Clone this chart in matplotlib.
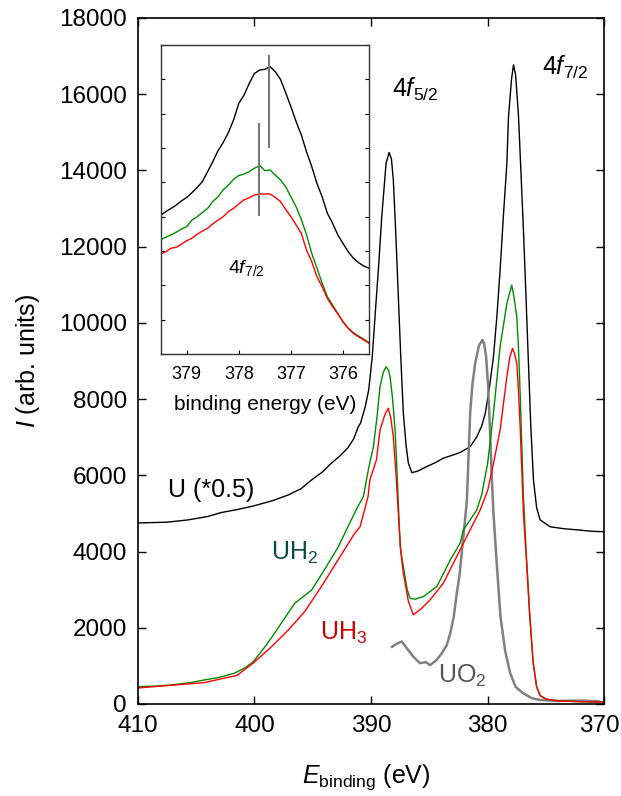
import matplotlib
matplotlib.use('Agg')
import matplotlib.pyplot as plt
import matplotlib.transforms as mtransforms

plt.rcParams['font.family'] = ['Liberation Sans', 'DejaVu Sans']
plt.rcParams['mathtext.fontset'] = 'custom'
plt.rcParams['mathtext.rm'] = 'Liberation Sans'
plt.rcParams['mathtext.it'] = 'Liberation Sans:italic'
plt.rcParams['mathtext.bf'] = 'Liberation Sans:bold'

# U metal (scaled by 0.5)
u_e = [410, 407.5, 405.7, 404, 402.9, 401.5, 400.1, 398.5, 397.1, 396, 395.1, 394.2,
       393.4, 392.7, 392.0, 391.5, 391.1, 390.9, 390.5, 390.2, 389.9, 389.66, 389.35,
       389.08, 388.71, 388.45, 388.25, 388.09, 387.9, 387.66, 387.45, 387.23, 387.0,
       386.8, 386.5, 386.0, 385.22, 384.5, 383.8, 383.0, 382.36, 381.5, 380.93, 380.5,
       380.2, 379.85, 379.5, 379.2, 378.93, 378.65, 378.35, 378.21, 377.95, 377.78,
       377.6, 377.35, 377.15, 376.93, 376.7, 376.5, 376.3, 376.07, 375.8, 375.5,
       374.64, 373.5, 372.35, 371, 370]
u_i = [4750, 4770, 4830, 4920, 5020, 5100, 5195, 5330, 5485, 5650, 5880, 6080,
       6320, 6500, 6715, 6950, 7270, 7370, 7800, 8240, 9100, 10160, 11500,
       12790, 14190, 14470, 14300, 13750, 12500, 10690, 9100, 7630, 6800,
       6320, 6070, 6110, 6230, 6330, 6450, 6530, 6600, 6750, 7010, 7300,
       7630, 8300, 9110, 10200, 11390, 12800, 14190, 15410, 16400, 16770,
       16500, 15410, 14000, 12440, 10600, 8940, 7300, 5880, 5150, 4830,
       4650, 4600, 4570, 4530, 4520]

# UH2
uh2_e = [410, 408.5, 407.1, 405.5, 404.3, 403, 401.7, 400.8, 400.1, 399.1, 398.4, 397.7,
         396.55, 395.1, 394, 392.8, 391.7, 391.1, 390.66, 390.5, 390.2, 389.8, 389.5,
         389.23, 388.95, 388.71, 388.5, 388.37, 388.15, 387.94, 387.8, 387.65, 387.5,
         387.23, 386.9, 386.65, 386.2, 385.5, 384.36, 383.2, 382.36, 382.08, 380.93,
         380.5, 380.0, 379.5, 378.93, 378.35, 378.1, 377.93, 377.75, 377.5, 377.35,
         377.2, 376.93, 376.7, 376.4, 376.1, 375.8, 375.5, 375, 374, 372, 370]
uh2_i = [455, 470, 500, 560, 630, 700, 810, 950, 1110, 1500, 1800, 2120,
         2640, 2990, 3520, 4130, 4830, 5200, 5440, 5700, 6200, 6750, 7500,
         8330, 8700, 8850, 8750, 8590, 8000, 7190, 6300, 5200, 4130,
         3600, 3000, 2770, 2750, 2820, 3080, 3780, 4220, 4570, 5090,
         5500, 6320, 7630, 9380, 10510, 10800, 10990, 10700, 10160, 9300,
         8060, 5440, 4040, 2400, 1100, 450, 220, 130, 80, 60, 50]

# UH3
uh3_e = [410, 408, 406, 404.3, 403, 401.5, 400.1, 398.55, 397.1, 395.7, 394.26, 392.83,
         391.4, 390.94, 390.26, 390.1, 389.54, 389.23, 388.8, 388.52, 388.3, 388.09,
         387.85, 387.66, 387.45, 387.23, 386.8, 386.37, 385.7, 384.94, 383.8, 382.65,
         381.5, 380.64, 380.0, 379.5, 378.93, 378.35, 378.1, 377.87, 377.7, 377.5,
         377.35, 377.2, 376.93, 376.7, 376.4, 376.1, 375.8, 375.5, 375, 374, 372, 370]
uh3_i = [420, 470, 520, 560, 650, 750, 1075, 1500, 1940, 2420, 3080, 3780,
         4480, 4650, 5440, 5880, 6400, 7190, 7600, 7760, 7500, 7010,
         6000, 5000, 4000, 3430, 2700, 2340, 2500, 2730, 3170, 3870,
         4570, 5090, 5600, 6310, 7190, 8590, 9100, 9330, 9200, 8940,
         8200, 7190, 5000, 3900, 2350, 1100, 450, 220, 130, 80, 60, 50]

# UO2
uo2_e = [388.2, 387.8, 387.37, 386.9, 386.37, 385.8, 385.3, 384.94, 384.4, 383.93, 383.5,
         383.2, 382.9, 382.65, 382.4, 382.2, 381.98, 381.78, 381.5, 381.3, 381.07, 380.75,
         380.45, 380.3, 380.13, 379.95, 379.8, 379.65, 379.5, 379.2, 378.9, 378.5, 378.07,
         377.6, 377.0, 376.2, 375.5, 374, 372, 370.5]
uo2_i = [1500, 1580, 1640, 1450, 1240, 1070, 1100, 1020, 1150, 1330, 1550,
         1860, 2300, 2900, 3400, 4040, 4700, 5350, 7630, 8400, 8940, 9400,
         9550, 9450, 9110, 8300, 7190, 6000, 5000, 3600, 2300, 1400, 810,
         450, 290, 150, 105, 80, 90, 70]

# inset: 4f7/2 peak region (arbitrary units)
ins_e = [379.5, 379.4, 379.3, 379.2, 379.1, 379.0, 378.9, 378.8, 378.7, 378.6, 378.5,
         378.4, 378.3, 378.2, 378.1, 378.0, 377.9, 377.8, 377.7, 377.6, 377.5,
         377.4, 377.3, 377.2, 377.1, 377.0, 376.9, 376.8, 376.7, 376.6, 376.5,
         376.4, 376.3, 376.2, 376.1, 376.0, 375.9, 375.8, 375.7, 375.6, 375.5]
ins_u = [4.04, 4.15, 4.24, 4.34, 4.46, 4.56, 4.70, 4.85, 5.02, 5.31, 5.60,
         5.92, 6.16, 6.45, 6.82, 7.30, 7.54, 7.88, 8.17, 8.27, 8.29,
         8.37, 8.22, 8.00, 7.61, 7.20, 6.77, 6.38, 5.89, 5.46, 4.97,
         4.58, 4.10, 3.81, 3.47, 3.22, 2.98, 2.79, 2.66, 2.56, 2.50]
ins_uh2 = [3.33, 3.40, 3.47, 3.55, 3.64, 3.71, 3.90, 4.00, 4.12, 4.24, 4.44,
           4.58, 4.78, 4.92, 5.09, 5.20, 5.24, 5.31, 5.41, 5.49, 5.34,
           5.36, 5.21, 5.07, 4.87, 4.58, 4.29, 3.92, 3.47, 2.93, 2.50,
           2.06, 1.67, 1.43, 1.18, 0.94, 0.75, 0.62, 0.52, 0.43, 0.33]
ins_uh3 = [2.91, 2.98, 3.08, 3.11, 3.20, 3.30, 3.37, 3.49, 3.58, 3.66, 3.79,
           3.90, 4.00, 4.15, 4.24, 4.37, 4.49, 4.55, 4.63, 4.66, 4.66,
           4.66, 4.56, 4.44, 4.21, 4.00, 3.76, 3.51, 3.03, 2.69, 2.25,
           1.96, 1.62, 1.38, 1.17, 0.94, 0.75, 0.60, 0.50, 0.41, 0.31]
ins_marks = [(377.42, 6.02, 8.68), (377.61, 4.05, 6.70)]

fig = plt.figure(figsize=(6.21, 7.96), dpi=100)
ax = fig.add_axes([0.222, 0.1156, 0.751, 0.8618])

ax.plot(u_e, u_i, color='black', lw=1.0)
ax.plot(uo2_e, uo2_i, color='#808080', lw=1.8)
ax.plot(uh2_e, uh2_i, color='#008a00', lw=1.0)
ax.plot(uh3_e, uh3_i, color='#ff0000', lw=1.0)

ax.set_xlim(410, 370)
ax.set_ylim(0, 18000)
ax.set_xticks([410, 400, 390, 380, 370])
ax.set_yticks(range(0, 18001, 2000))
ax.tick_params(direction='in', top=True, right=True, length=6, width=1,
               labelsize=17.5, pad=8)
for s in ax.spines.values():
    s.set_linewidth(1.2)

# nudge the last x tick label so it stays inside the figure
last = ax.get_xticklabels()[-1]
last.set_transform(last.get_transform() +
                   mtransforms.ScaledTranslation(-5 / 100, 0, fig.dpi_scale_trans))

ax.set_xlabel(r'$E_{\mathrm{binding}}$ (eV)', fontsize=18)
ax.set_ylabel(r'$I$ (arb. units)', fontsize=18)
ax.xaxis.set_label_coords(0.49, -0.085)
ax.yaxis.set_label_coords(-0.205, 0.5)

ax.text(407.4, 5615, 'U (*0.5)', fontsize=18, va='center', ha='left')
ax.text(398.6, 3975, r'UH$_2$', fontsize=18, color='#0b4d3c', va='center', ha='left')
ax.text(394.4, 1876, r'UH$_3$', fontsize=18, color='#cc0000', va='center', ha='left')
ax.text(384.25, 735, r'UO$_2$', fontsize=18, color='#555555', va='center', ha='left')
ax.text(388.2, 16125, r'4$f$$_{5/2}$', fontsize=18, va='center', ha='left')
ax.text(375.3, 16700, r'4$f$$_{7/2}$', fontsize=18, va='center', ha='left')

# inset
ins = fig.add_axes([0.2588, 0.5553, 0.3354, 0.3882])
ins.plot(ins_e, ins_u, color='black', lw=1.0)
ins.plot(ins_e, ins_uh2, color='#008a00', lw=1.0)
ins.plot(ins_e, ins_uh3, color='#ff0000', lw=1.0)
for xm, y0, y1 in ins_marks:
    ins.plot([xm, xm], [y0, y1], color='#777777', lw=1.5)
ins.set_xlim(379.5, 375.5)
ins.set_ylim(0, 9)
ins.set_xticks([379, 378, 377, 376])
ins.set_yticks(range(0, 10))
ins.set_yticklabels([])
ins.tick_params(direction='in', right=True, length=3, width=0.8,
                labelsize=13, pad=9)
for s in ins.spines.values():
    s.set_linewidth(1.0)
    s.set_color('#333333')
ins.set_xlabel('binding energy (eV)', fontsize=15, labelpad=8)
ins.text(378.21, 2.5, r'4$f$$_{7/2}$', fontsize=14, va='center', ha='left')

fig.savefig('out.png', dpi=100)
